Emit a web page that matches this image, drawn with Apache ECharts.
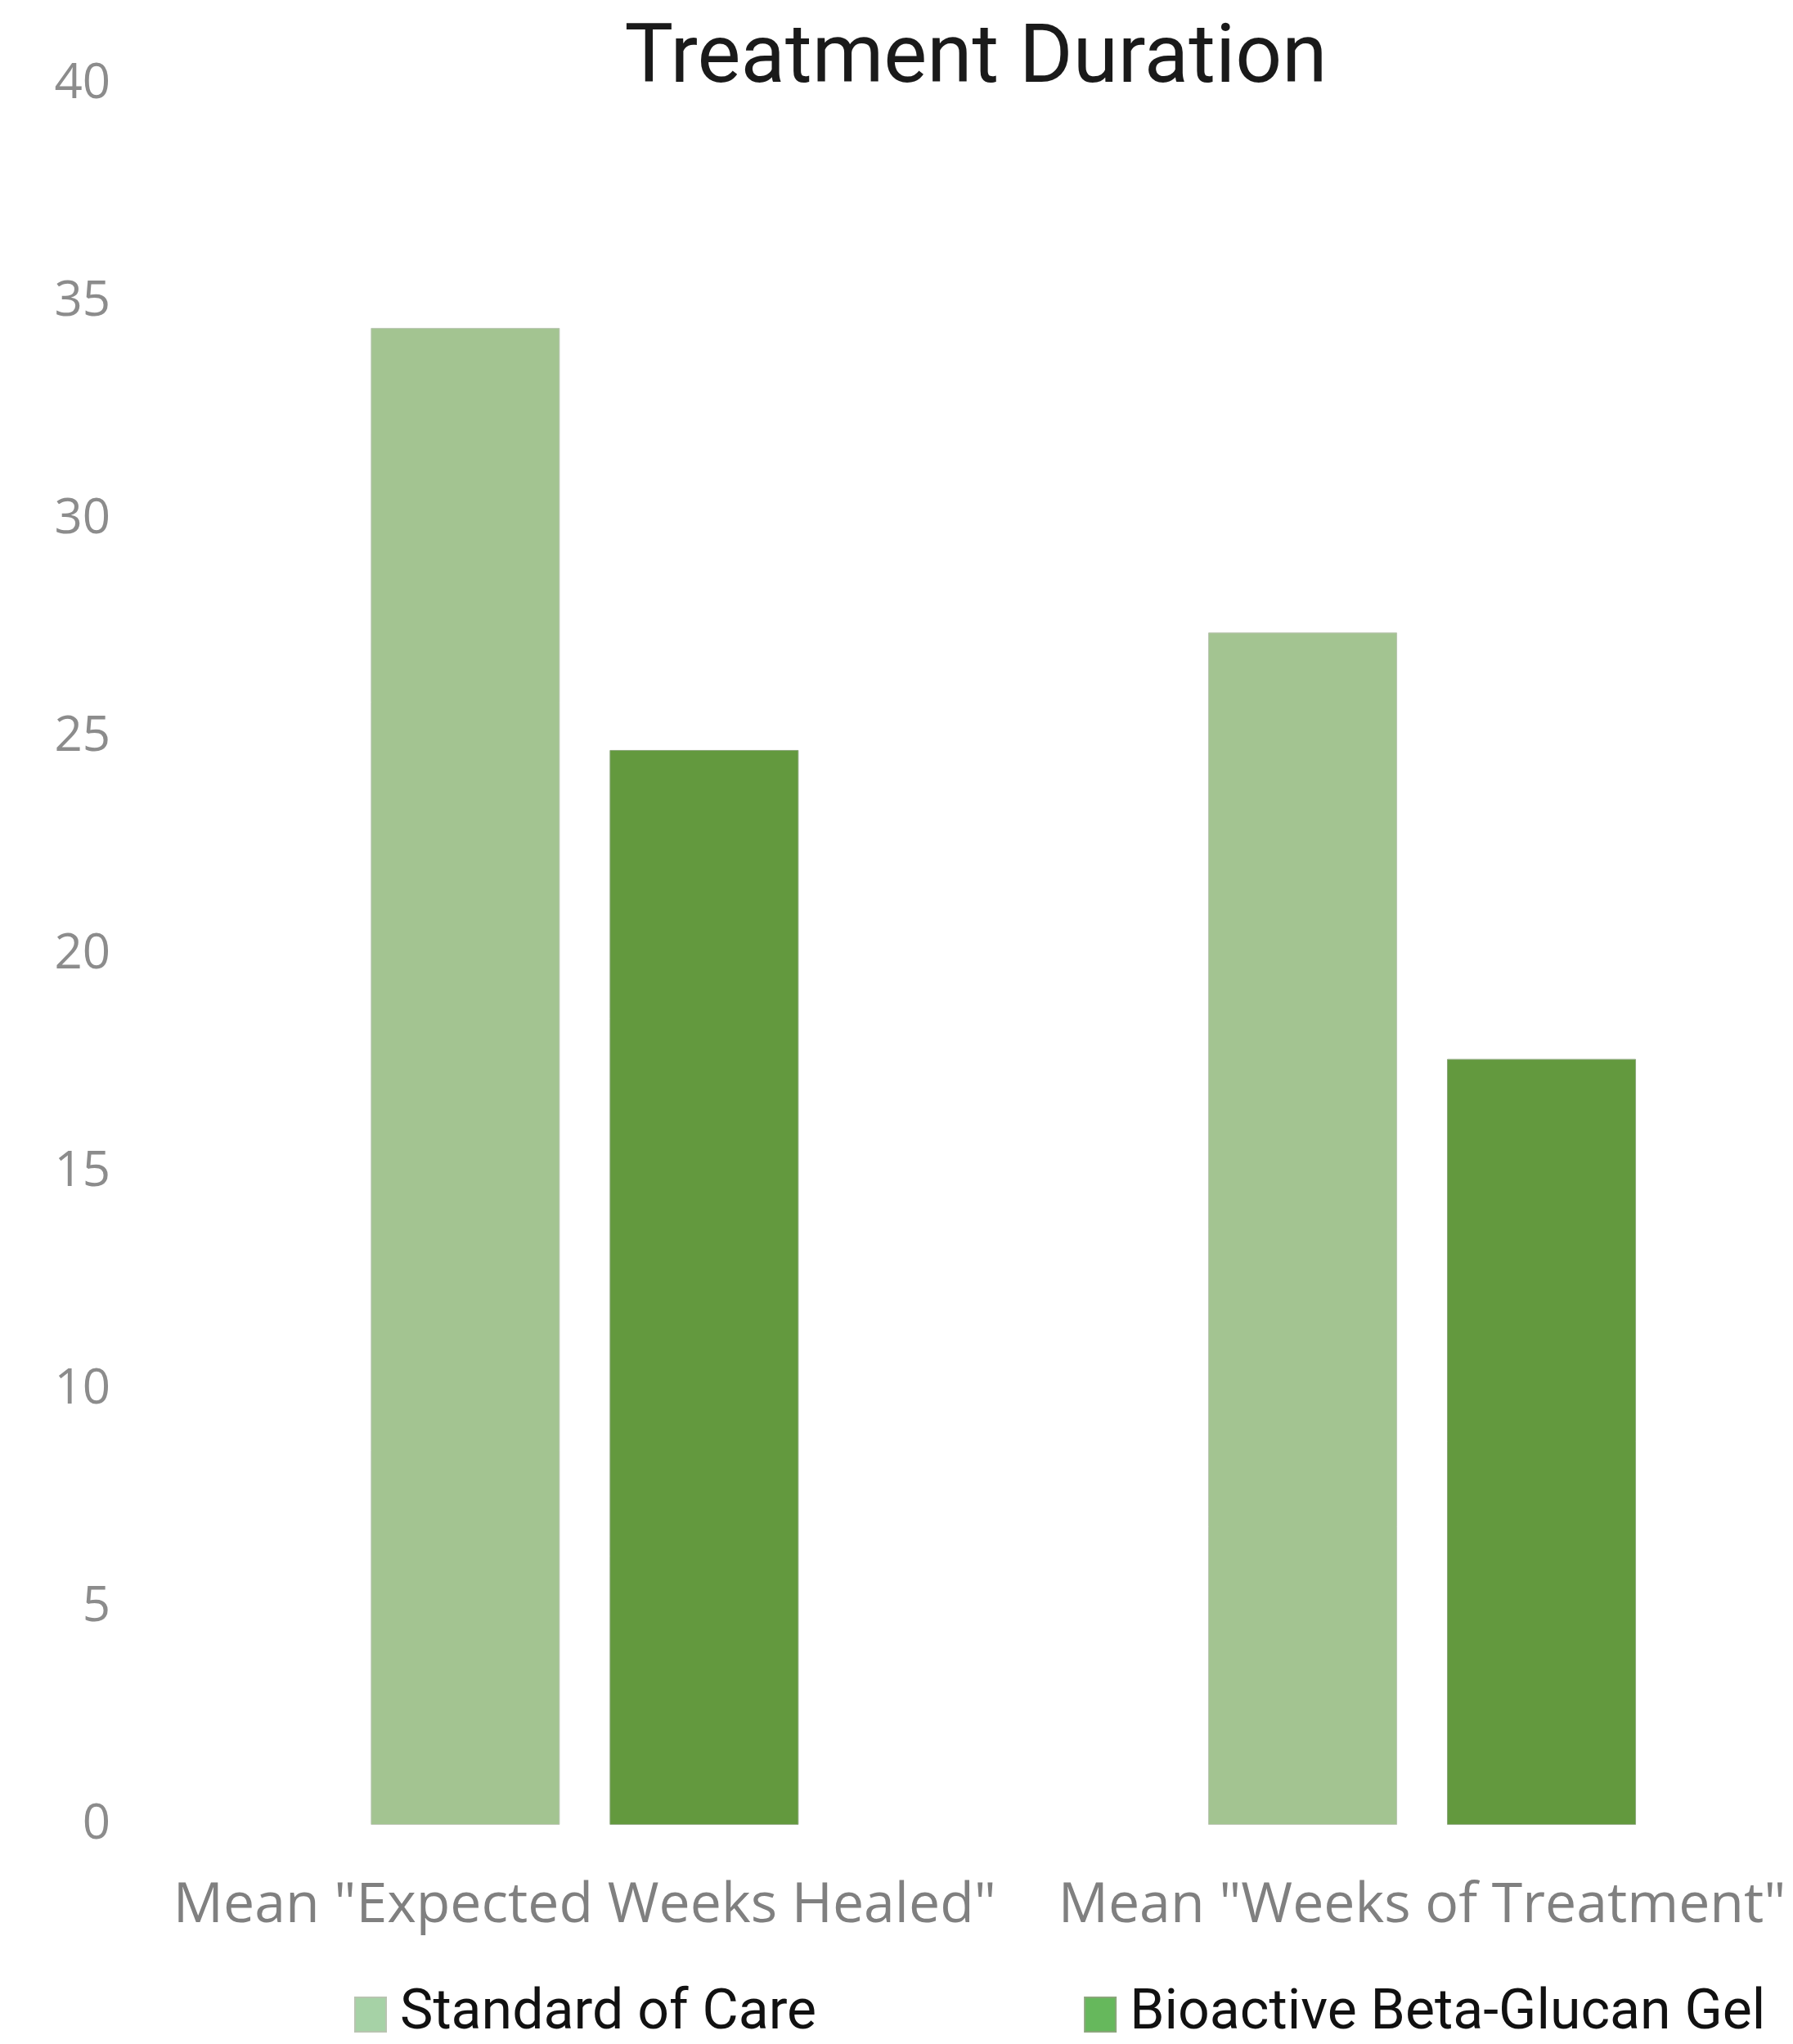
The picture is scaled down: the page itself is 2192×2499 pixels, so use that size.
<!DOCTYPE html>
<html>
<head>
<meta charset="utf-8">
<script src="https://cdn.jsdelivr.net/npm/echarts@6/dist/echarts.min.js"></script>
<style>html,body{margin:0;padding:0;background:#fff;}#c{width:2192px;height:2499px;}</style>
</head>
<body>
<div id="c"></div>
<script>
const categories = ['Mean "Expected Weeks Healed"', 'Mean "Weeks of Treatment"'];
const categoryPositions = [0, 1];
const seriesNames = ['Standard of Care', 'Bioactive Beta-Glucan Gel'];
const standardOfCare = [34.4, 27.4];
const betaGlucanGel = [24.7, 17.6];
const yTicks = { min: 0, max: 40, interval: 5 };

const pairs = vals => vals.map((v, i) => [categoryPositions[i], v]);

const chart = echarts.init(document.getElementById('c'));
chart.setOption({
  backgroundColor: '#ffffff',
  animation: false,
  title: {
    text: 'Treatment Duration',
    left: 1188, textAlign: 'center', top: 20,
    textStyle: { fontFamily: 'Roboto', fontWeight: 'normal', fontSize: 100, color: '#1a1a1a' }
  },
  legend: {
    left: 428, top: 2424,
    itemWidth: 38, itemHeight: 42, itemGap: 327,
    icon: 'rect',
    data: [
      { name: seriesNames[0], itemStyle: { color: '#a6d2a6' } },
      { name: seriesNames[1], itemStyle: { color: '#66b85c' } }
    ],
    textStyle: { fontFamily: 'Roboto', fontSize: 68, color: '#111', padding: [0, 0, 0, 12] }
  },
  grid: { left: 203, top: 103, width: 1986, height: 2128, containLabel: false },
  xAxis: {
    type: 'value', min: -0.5, max: 1.44,
    splitLine: { show: false },
    axisLine: { show: false }, axisTick: { show: false },
    axisLabel: {
      customValues: categoryPositions,
      formatter: v => categories[Math.round(v)],
      fontFamily: 'Open Sans', fontSize: 68, color: '#808080', margin: 66
    }
  },
  yAxis: {
    type: 'value', min: yTicks.min, max: yTicks.max, interval: yTicks.interval,
    splitLine: { show: false }, axisLine: { show: false }, axisTick: { show: false },
    axisLabel: { fontFamily: 'Open Sans', fontSize: 60, color: '#8c8c8c', margin: 68, padding: [10, 0, 0, 0] }
  },
  series: [
    { name: seriesNames[0], type: 'bar', data: pairs(standardOfCare), barWidth: 231, barGap: '26.4%',
      itemStyle: { color: '#a3c491', borderColor: '#b8c4b0', borderWidth: 1 } },
    { name: seriesNames[1], type: 'bar', data: pairs(betaGlucanGel), barWidth: 231,
      itemStyle: { color: '#63993e', borderColor: '#8aa67a', borderWidth: 1 } }
  ]
});
</script>
</body>
</html>
